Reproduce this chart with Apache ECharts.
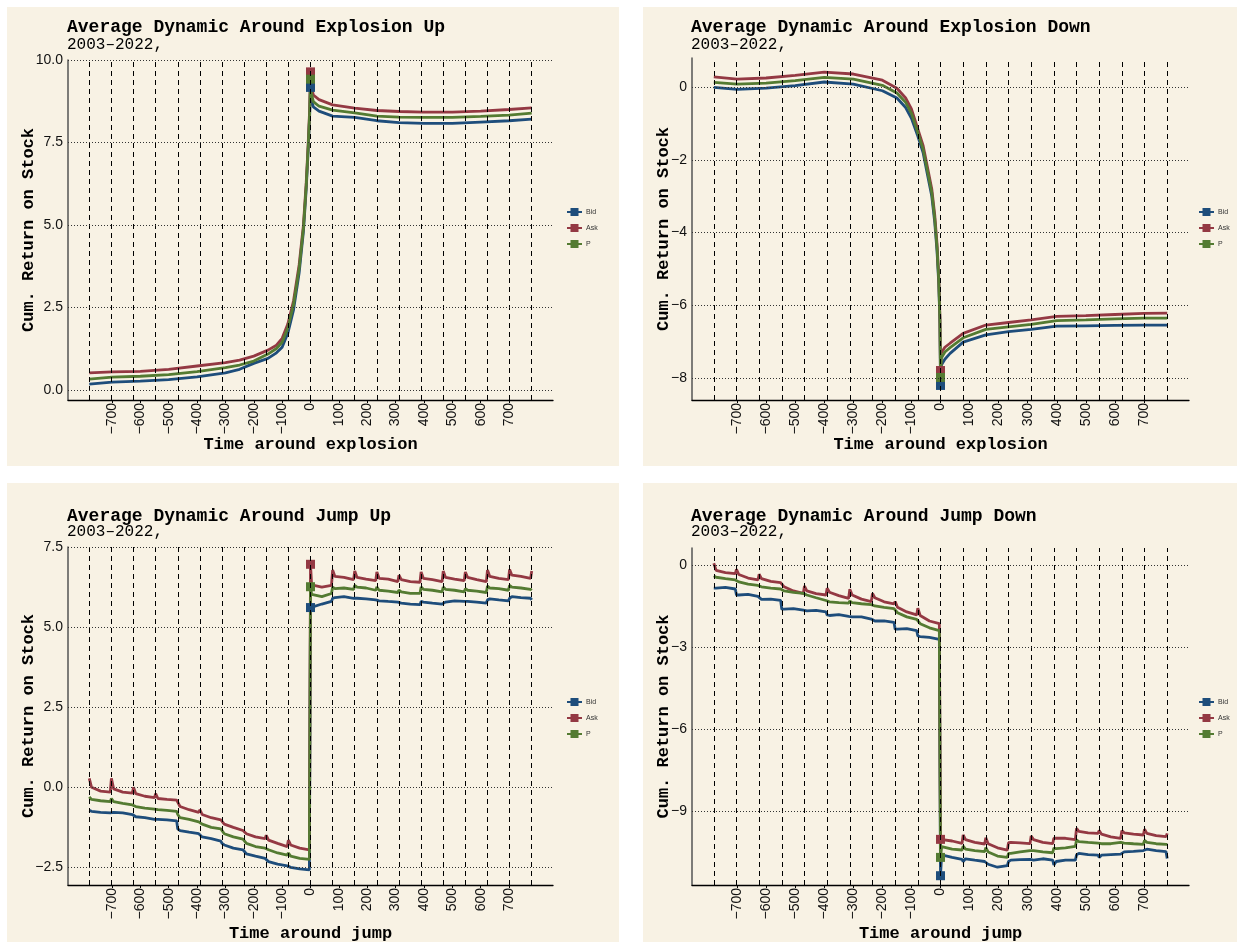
<!DOCTYPE html>
<html>
<head>
<meta charset="utf-8">
<script src="https://cdn.jsdelivr.net/npm/echarts@6/dist/echarts.min.js"></script>
<style>
html,body{margin:0;padding:0;background:#fff;}
#wrap{position:relative;width:1244px;height:949px;}
.panel{position:absolute;background:#F8F2E4;}
#chart{position:absolute;left:0;top:0;width:1244px;height:949px;}
</style>
</head>
<body>
<div id="wrap">
  <div class="panel" style="left:7px;top:7px;width:612px;height:459px;"></div>
  <div class="panel" style="left:643px;top:7px;width:594px;height:459px;"></div>
  <div class="panel" style="left:7px;top:483px;width:612px;height:459px;"></div>
  <div class="panel" style="left:643px;top:483px;width:594px;height:459px;"></div>
  <div id="chart"></div>
</div>
<script>
// ---------- tick labels / reference lines ----------
const xTicks = [-700,-600,-500,-400,-300,-200,-100,0,100,200,300,400,500,600,700];
const dayLines = [-780,-702,-624,-546,-468,-390,-312,-234,-156,-78,0,78,156,234,312,390,468,546,624,702,780];
const yTicksExpUp = [0,2.5,5,7.5,10];
const yTicksExpDown = [0,-2,-4,-6,-8];
const yTicksJumpUp = [-2.5,0,2.5,5,7.5];
const yTicksJumpDown = [0,-3,-6,-9];

// ---------- Explosion Up ----------
const xExpUp = [-780,-700,-600,-500,-400,-300,-250,-200,-150,-120,-100,-80,-60,-40,-25,-15,-8,-3,0,3,10,30,78,156,234,312,400,500,600,700,780];
const bidExpUp = [0.18,0.24,0.27,0.32,0.40,0.52,0.63,0.81,0.96,1.13,1.30,1.72,2.42,3.55,4.80,6.10,7.30,8.30,9.17,8.80,8.58,8.45,8.30,8.26,8.16,8.10,8.08,8.08,8.12,8.16,8.21];
const askExpUp = [0.52,0.55,0.57,0.63,0.73,0.83,0.91,1.03,1.21,1.36,1.57,2.00,2.70,3.80,5.00,6.30,7.50,8.50,9.64,9.20,8.94,8.80,8.64,8.54,8.47,8.44,8.42,8.42,8.45,8.50,8.55];
const pExpUp   = [0.33,0.39,0.42,0.47,0.56,0.68,0.76,0.88,1.09,1.26,1.45,1.88,2.58,3.68,4.90,6.20,7.40,8.40,9.42,9.00,8.74,8.60,8.48,8.40,8.30,8.27,8.26,8.26,8.29,8.33,8.39];

// ---------- Explosion Down ----------
const xExpDown = [-780,-700,-600,-500,-400,-300,-200,-150,-120,-100,-80,-60,-45,-30,-20,-12,-6,-2,0,3,15,33,78,156,234,312,400,500,600,700,780];
const bidExpDown = [-0.01,-0.06,-0.03,0.04,0.14,0.08,-0.10,-0.30,-0.56,-0.86,-1.30,-1.80,-2.40,-3.00,-3.70,-4.50,-5.40,-6.50,-8.20,-7.64,-7.48,-7.32,-7.01,-6.81,-6.72,-6.66,-6.57,-6.56,-6.55,-6.54,-6.54];
const askExpDown = [0.28,0.22,0.25,0.32,0.41,0.36,0.19,-0.03,-0.30,-0.60,-1.10,-1.60,-2.20,-2.80,-3.50,-4.30,-5.20,-6.30,-7.79,-7.30,-7.15,-7.04,-6.77,-6.54,-6.47,-6.40,-6.30,-6.28,-6.25,-6.22,-6.21];
const pExpDown   = [0.13,0.08,0.11,0.18,0.27,0.22,0.05,-0.16,-0.42,-0.72,-1.20,-1.70,-2.30,-2.90,-3.60,-4.40,-5.30,-6.40,-7.98,-7.45,-7.28,-7.16,-6.89,-6.66,-6.59,-6.52,-6.42,-6.40,-6.37,-6.35,-6.35];

// ---------- Jump (shared time grid) ----------
const xJump = [-780,-772,-740,-706,-702,-694,-662,-628,-624,-616,-584,-550,-546,-538,-506,-472,-468,-460,-428,-394,
  -390,-382,-350,-316,-312,-304,-272,-238,-234,-226,-194,-160,-156,-148,-116,-82,-78,-70,-38,-4,
  0,4,40,74,78,86,118,152,156,164,196,230,234,242,274,308,312,320,352,386,390,398,430,464,
  468,476,508,542,546,554,586,620,624,632,664,698,702,710,742,776,780];

// ---------- Jump Up ----------
const bidJumpUp = [-0.72,-0.75,-0.78,-0.80, -0.75,-0.78,-0.80,-0.85, -0.90,-0.92,-0.95,-1.00, -1.00,-1.00,-1.02,-1.05,
  -1.30,-1.35,-1.40,-1.45, -1.45,-1.55,-1.60,-1.68, -1.75,-1.80,-1.90,-1.95, -2.00,-2.08,-2.15,-2.22,
  -2.25,-2.32,-2.40,-2.45, -2.45,-2.50,-2.55,-2.58,
  5.61,5.65,5.72,5.80, 5.90,5.92,5.95,5.90, 5.92,5.90,5.88,5.85, 5.90,5.82,5.80,5.78, 5.72,5.75,5.72,5.70,
  5.80,5.78,5.75,5.72, 5.70,5.78,5.82,5.80, 5.75,5.80,5.78,5.75, 5.85,5.88,5.85,5.82, 5.90,5.95,5.92,5.90, 5.85];
const askJumpUp = [0.28,0.00,-0.12,-0.15, 0.28,-0.05,-0.15,-0.18, 0.00,-0.20,-0.28,-0.32, -0.20,-0.35,-0.38,-0.40,
  -0.45,-0.60,-0.70,-0.78, -0.70,-0.85,-0.95,-1.02, -1.00,-1.15,-1.25,-1.35, -1.30,-1.45,-1.55,-1.60,
  -1.50,-1.65,-1.75,-1.85, -1.65,-1.80,-1.90,-1.95,
  6.96,6.32,6.25,6.30, 6.78,6.58,6.55,6.48, 6.75,6.55,6.50,6.45, 6.72,6.52,6.50,6.42, 6.62,6.48,6.42,6.40,
  6.72,6.52,6.48,6.42, 6.75,6.55,6.50,6.45, 6.72,6.55,6.48,6.42, 6.78,6.58,6.52,6.48, 6.80,6.62,6.58,6.52, 6.75];
const pJumpUp = [-0.30,-0.38,-0.42,-0.45, -0.35,-0.45,-0.50,-0.55, -0.50,-0.60,-0.65,-0.68, -0.62,-0.70,-0.72,-0.75,
  -0.85,-0.95,-1.00,-1.08, -1.05,-1.15,-1.25,-1.30, -1.35,-1.45,-1.55,-1.62, -1.65,-1.75,-1.85,-1.90,
  -1.85,-1.95,-2.05,-2.12, -2.05,-2.15,-2.22,-2.25,
  6.26,6.02,5.95,6.05, 6.25,6.20,6.22,6.18, 6.30,6.25,6.22,6.15, 6.25,6.15,6.12,6.08, 6.15,6.10,6.05,6.05,
  6.25,6.18,6.15,6.10, 6.25,6.18,6.15,6.10, 6.20,6.15,6.12,6.08, 6.28,6.22,6.20,6.15, 6.30,6.25,6.22,6.18, 6.15];

// ---------- Jump Down ----------
const bidJumpDown = [-0.85,-0.85,-0.82,-0.88, -1.10,-1.10,-1.08,-1.15, -1.22,-1.26,-1.25,-1.30, -1.62,-1.62,-1.60,-1.65,
  -1.66,-1.68,-1.66,-1.72, -1.83,-1.85,-1.82,-1.88, -1.88,-1.90,-1.90,-1.98, -2.05,-2.05,-2.05,-2.10,
  -2.35,-2.35,-2.33,-2.40, -2.60,-2.62,-2.65,-2.72,
  -11.37,-10.61,-10.70,-10.77, -10.85,-10.75,-10.80,-10.85, -10.91,-10.95,-11.06,-11.00, -10.85,-10.80,-10.78,-10.77,
  -10.77,-10.80,-10.75,-10.80, -10.98,-10.85,-10.80,-10.80, -10.61,-10.55,-10.60,-10.62, -10.70,-10.62,-10.60,-10.58,
  -10.55,-10.50,-10.48,-10.45, -10.45,-10.40,-10.45,-10.49, -10.74];
const askJumpDown = [0.06,-0.20,-0.28,-0.32, -0.16,-0.35,-0.48,-0.55, -0.34,-0.50,-0.60,-0.65, -0.67,-0.80,-0.95,-1.04,
  -0.77,-0.95,-1.05,-1.10, -0.85,-1.00,-1.12,-1.22, -0.89,-1.10,-1.25,-1.34, -1.04,-1.20,-1.35,-1.42,
  -1.34,-1.55,-1.72,-1.83, -1.58,-1.85,-2.05,-2.15,
  -10.04,-9.97,-10.10,-10.19, -9.88,-10.05,-10.15,-10.21, -9.98,-10.20,-10.35,-10.43, -10.16,-10.15,-10.17,-10.20,
  -9.92,-10.05,-10.15,-10.20, -10.00,-10.00,-10.00,-10.05, -9.64,-9.75,-9.80,-9.82, -9.72,-9.85,-9.95,-10.00,
  -9.72,-9.80,-9.85,-9.88, -9.67,-9.82,-9.90,-9.94, -9.82];
const pJumpDown = [-0.40,-0.45,-0.50,-0.55, -0.58,-0.62,-0.70,-0.75, -0.75,-0.80,-0.85,-0.88, -0.90,-0.95,-1.00,-1.04,
  -1.02,-1.10,-1.20,-1.30, -1.30,-1.35,-1.38,-1.40, -1.32,-1.38,-1.42,-1.45, -1.44,-1.50,-1.55,-1.60,
  -1.62,-1.75,-1.90,-1.99, -2.00,-2.15,-2.30,-2.40,
  -10.70,-10.31,-10.40,-10.43, -10.29,-10.40,-10.45,-10.49, -10.34,-10.50,-10.65,-10.70, -10.55,-10.55,-10.50,-10.45,
  -10.39,-10.45,-10.50,-10.53, -10.36,-10.38,-10.35,-10.30, -10.06,-10.12,-10.15,-10.18, -10.18,-10.20,-10.20,-10.15,
  -10.12,-10.18,-10.20,-10.22, -10.08,-10.15,-10.20,-10.22, -10.24];

// ---------- build chart ----------
const COLORS = {Bid:'#1e4d7b', Ask:'#943943', P:'#547b32'};
const MONO = 'Liberation Mono';
const SANS = 'Liberation Sans';

const panels = [
  {title:'Average Dynamic Around Explosion Up', xname:'Time around explosion', x:xExpUp, bid:bidExpUp, ask:askExpUp, p:pExpUp,
   yTicks:yTicksExpUp, ymin:-0.3, ymax:10, dec:1, grid:{left:68, top:60, width:485, height:340}, yGap:31, xGap:36,
   titleTop:17, subTop:36, legendLeft:566, legendTop:208},
  {title:'Average Dynamic Around Explosion Down', xname:'Time around explosion', x:xExpDown, bid:bidExpDown, ask:askExpDown, p:pExpDown,
   yTicks:yTicksExpDown, ymin:-8.6, ymax:0.8, dec:0, grid:{left:692, top:58, width:497, height:342}, yGap:20, xGap:36,
   titleTop:17, subTop:36, legendLeft:1198, legendTop:208},
  {title:'Average Dynamic Around Jump Up', xname:'Time around jump', x:xJump, bid:bidJumpUp, ask:askJumpUp, p:pJumpUp,
   yTicks:yTicksJumpUp, ymin:-3.05, ymax:7.5, dec:1, grid:{left:68, top:547, width:485, height:338}, yGap:31, xGap:40,
   titleTop:506, subTop:523, legendLeft:566, legendTop:698},
  {title:'Average Dynamic Around Jump Down', xname:'Time around jump', x:xJump, bid:bidJumpDown, ask:askJumpDown, p:pJumpDown,
   yTicks:yTicksJumpDown, ymin:-11.71, ymax:0.62, dec:0, grid:{left:692, top:548, width:497, height:337}, yGap:20, xGap:40,
   titleTop:506, subTop:523, legendLeft:1198, legendTop:698}
];

const fmtNum = (v, dec) => (v < 0 ? '\u2212' : '') + Math.abs(v).toFixed(dec);

const option = {
  animation:false,
  backgroundColor:'transparent',
  title:[], grid:[], xAxis:[], yAxis:[], legend:[], series:[]
};

panels.forEach((pn, i) => {
  option.title.push({
    text:pn.title, left:pn.grid.left - 1, top:pn.titleTop, padding:0,
    textStyle:{fontFamily:MONO, fontWeight:'bold', fontSize:18, lineHeight:20, color:'#000'}
  });
  option.title.push({
    text:'2003\u20132022,', left:pn.grid.left - 1, top:pn.subTop, padding:0,
    textStyle:{fontFamily:MONO, fontWeight:'normal', fontSize:16, lineHeight:18, color:'#000'}
  });
  option.grid.push(pn.grid);
  option.xAxis.push({
    type:'value', gridIndex:i, min:-855, max:855,
    name:pn.xname, nameLocation:'middle', nameGap:pn.xGap, nameMoveOverlap:false,
    nameTextStyle:{fontFamily:MONO, fontWeight:'bold', fontSize:17, color:'#000'},
    axisLine:{show:true, onZero:false, lineStyle:{color:'#000', width:1.3}},
    axisTick:{show:true, length:3, customValues:xTicks, lineStyle:{color:'#000'}},
    axisLabel:{customValues:xTicks, rotate:90, margin:3, fontFamily:SANS, fontSize:14, color:'#111',
      formatter:(v) => fmtNum(v, 0)},
    splitLine:{show:false}
  });
  option.yAxis.push({
    type:'value', gridIndex:i, min:pn.ymin, max:pn.ymax,
    name:'Cum. Return on Stock', nameLocation:'middle', nameGap:pn.yGap, nameMoveOverlap:false,
    nameTextStyle:{fontFamily:MONO, fontWeight:'bold', fontSize:17, color:'#000'},
    axisLine:{show:true, onZero:false, lineStyle:{color:'#555', width:1.5}},
    axisTick:{show:false, customValues:pn.yTicks},
    axisLabel:{customValues:pn.yTicks, margin:5, fontFamily:SANS, fontSize:14, color:'#111',
      formatter:(v) => fmtNum(v, pn.dec)},
    splitLine:{show:false}
  });
  option.legend.push({
    orient:'vertical', left:pn.legendLeft, top:pn.legendTop, padding:0,
    itemWidth:15, itemHeight:10, itemGap:8,
    data:['Bid','Ask','P'], selectedMode:false,
    textStyle:{fontFamily:SANS, fontSize:7, color:'#333', padding:[0,0,0,-1]}
  });
  // reference lines: day boundaries (dashed) + horizontal dotted grid
  option.series.push({
    type:'line', name:'_grid' + i, xAxisIndex:i, yAxisIndex:i, data:[], z:1, silent:true,
    markLine:{
      symbol:'none', silent:true, label:{show:false}, animation:false,
      data:[
        ...dayLines.map(v => ({xAxis:v, lineStyle:{type:[5,4], color:'#000', width:1}})),
        ...pn.yTicks.map(v => ({yAxis:v, lineStyle:{type:[1,2], color:'#333', width:1}}))
      ]
    }
  });
  [['Bid', pn.bid], ['Ask', pn.ask], ['P', pn.p]].forEach(([name, vals]) => {
    option.series.push({
      type:'line', name:name, xAxisIndex:i, yAxisIndex:i, z:3,
      data:pn.x.map((xv, k) => [xv, vals[k]]),
      color:COLORS[name],
      lineStyle:{width:2.8, color:COLORS[name]},
      itemStyle:{color:COLORS[name]},
      symbol:'rect', showSymbol:true,
      symbolSize:(v) => (v[0] === 0 ? 9 : 0),
      emphasis:{disabled:true}, silent:true
    });
  });
});

const chart = echarts.init(document.getElementById('chart'), null, {renderer:'canvas'});
chart.setOption(option);
</script>
</body>
</html>
